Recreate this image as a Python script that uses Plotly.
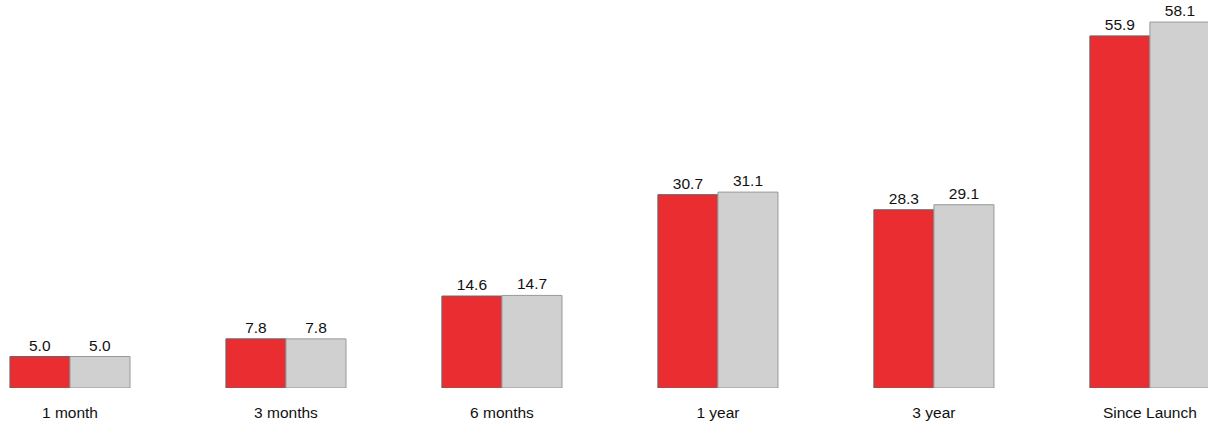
import plotly.graph_objects as go

categories = ["1 month", "3 months", "6 months", "1 year", "3 year", "Since Launch"]
fund_values = [5.0, 7.8, 14.6, 30.7, 28.3, 55.9]
benchmark_values = [5.0, 7.8, 14.7, 31.1, 29.1, 58.1]

FONT = "Liberation Sans, Arial, sans-serif"

fig = go.Figure()
fig.add_trace(go.Bar(
    x=categories, y=fund_values, name="Fund",
    marker=dict(color="#E92D30", line=dict(color="#666666", width=1)),
    text=[f"{v:.1f}" for v in fund_values], textposition="outside",
    textfont=dict(family=FONT, size=15.5, color="#111111"),
    cliponaxis=False,
))
fig.add_trace(go.Bar(
    x=categories, y=benchmark_values, name="Benchmark",
    marker=dict(color="#D0D0D0", line=dict(color="#999999", width=1)),
    text=[f"{v:.1f}" for v in benchmark_values], textposition="outside",
    textfont=dict(family=FONT, size=15.5, color="#111111"),
    cliponaxis=False,
))

fig.update_layout(
    width=1208, height=422,
    margin=dict(l=0, r=0, t=0, b=34),
    barmode="group", bargap=0.444, bargroupgap=0,
    showlegend=False,
    plot_bgcolor="white", paper_bgcolor="white",
    font=dict(family=FONT, size=15.5, color="#111111"),
)
fig.update_xaxes(
    range=[-0.324, 5.269], showgrid=False, zeroline=False, showline=False,
    ticks="outside", ticklen=10, tickcolor="rgba(0,0,0,0)",
    tickfont=dict(size=15.5, color="#111111"),
)
fig.update_yaxes(range=[0, 61.6], visible=False)

fig.write_html("out.html")
